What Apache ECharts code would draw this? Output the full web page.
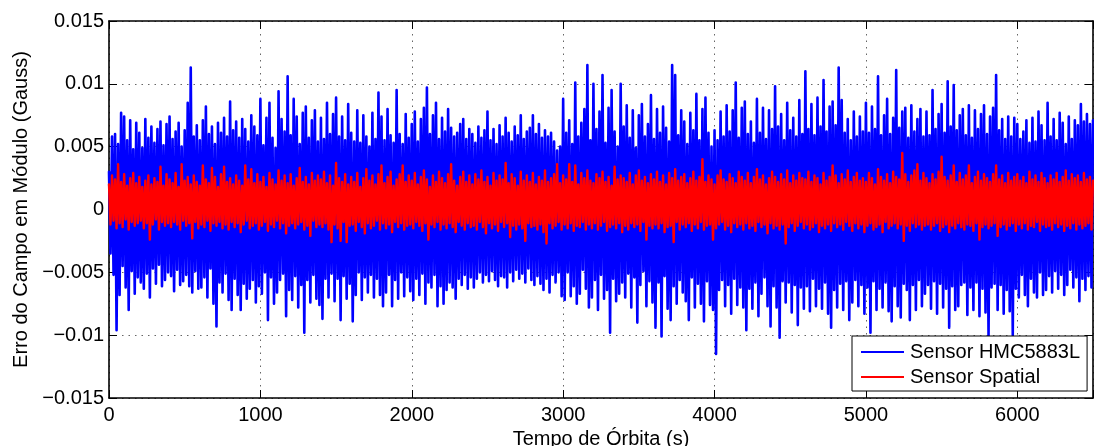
<!DOCTYPE html>
<html>
<head>
<meta charset="utf-8">
<script src="https://cdn.jsdelivr.net/npm/echarts@6/dist/echarts.min.js"></script>
<style>
html,body{margin:0;padding:0;background:#fff;}
#chart{width:1094px;height:446px;}
</style>
</head>
<body>
<div id="chart"></div>
<script>
// Sampling interval (s) of the values (alternating local max / local min)
const sampleStep = 10;

// Sensor HMC5883L error (Gauss), transcribed every 10 s from 0 to 6500 s
const blueHMC5883L = [
.0030,-.0035,.0058,-.0052,.0060,-.0096,.0052,-.0068,.0077,-.0045,.0074,-.0062,.0055,-.0080,.0071,-.0049,.0048,-.0067,.0069,-.0054,
.0061,-.0058,.0049,-.0063,.0072,-.0051,.0057,-.0070,.0066,-.0047,.0053,-.0059,.0064,-.0044,.0070,-.0061,.0051,-.0056,.0068,-.0050,
.0074,-.0053,.0056,-.0065,.0062,-.0048,.0069,-.0060,.0050,-.0057,.0063,-.0052,.0085,-.0061,.0113,-.0066,.0058,-.0049,.0067,-.0063,
.0055,-.0062,.0071,-.0054,.0082,-.0070,.0060,-.0047,.0066,-.0075,.0052,-.0093,.0069,-.0058,.0061,-.0066,.0073,-.0051,.0058,-.0072,
.0086,-.0080,.0063,-.0055,.0070,-.0068,.0057,-.0080,.0072,-.0059,.0064,-.0071,.0054,-.0063,.0075,-.0056,.0066,-.0074,.0059,-.0061,
.0088,-.0067,.0051,-.0050,.0073,-.0088,.0085,-.0054,.0057,-.0075,.0049,-.0066,.0094,-.0056,.0072,-.0051,.0062,-.0085,.0106,-.0064,
.0059,-.0072,.0088,-.0053,.0074,-.0078,.0052,-.0060,.0077,-.0098,.0082,-.0056,.0057,-.0074,.0071,-.0052,.0079,-.0071,.0054,-.0076,
.0073,-.0087,.0056,-.0055,.0085,-.0070,.0060,-.0051,.0076,-.0073,.0089,-.0055,.0058,-.0088,.0074,-.0053,.0055,-.0071,.0084,-.0059,
.0061,-.0089,.0054,-.0068,.0079,-.0050,.0053,-.0072,.0075,-.0054,.0058,-.0066,.0050,-.0052,.0077,-.0070,.0056,-.0055,.0093,-.0068,
.0074,-.0077,.0055,-.0066,.0080,-.0052,.0059,-.0077,.0053,-.0056,.0095,-.0071,.0060,-.0050,.0052,-.0069,.0076,-.0054,.0057,-.0065,
.0068,-.0072,.0078,-.0055,.0054,-.0068,.0072,-.0051,.0081,-.0075,.0097,-.0058,.0060,-.0062,.0075,-.0052,.0085,-.0077,.0056,-.0061,
.0073,-.0075,.0062,-.0064,.0080,-.0058,.0065,-.0062,.0058,-.0071,.0061,-.0055,.0068,-.0060,.0072,-.0052,.0056,-.0063,.0064,-.0054,
.0060,-.0062,.0053,-.0055,.0066,-.0050,.0057,-.0058,.0063,-.0052,.0078,-.0057,.0055,-.0049,.0064,-.0056,.0052,-.0061,.0067,-.0053,
.0058,-.0054,.0073,-.0062,.0061,-.0050,.0054,-.0057,.0066,-.0048,.0059,-.0055,.0075,-.0051,.0056,-.0058,.0062,-.0047,.0065,-.0056,
.0075,-.0060,.0060,-.0053,.0068,-.0059,.0057,-.0064,.0063,-.0055,.0058,-.0066,.0061,-.0052,.0054,-.0058,.0047,-.0050,.0050,-.0069,
.0088,-.0072,.0061,-.0050,.0071,-.0069,.0052,-.0061,.0101,-.0075,.0058,-.0067,.0069,-.0048,.0080,-.0063,.0115,-.0078,.0055,-.0070,
.0100,-.0056,.0064,-.0080,.0078,-.0052,.0107,-.0071,.0053,-.0064,.0081,-.0098,.0095,-.0055,.0062,-.0073,.0050,-.0067,.0100,-.0058,
.0066,-.0070,.0083,-.0051,.0057,-.0078,.0079,-.0054,.0049,-.0090,.0075,-.0060,.0084,-.0049,.0058,-.0077,.0068,-.0057,.0091,-.0074,
.0056,-.0094,.0080,-.0058,.0061,-.0101,.0082,-.0053,.0065,-.0079,.0054,-.0088,.0115,-.0061,.0107,-.0075,.0059,-.0056,.0079,-.0066,
.0070,-.0073,.0052,-.0088,.0077,-.0054,.0063,-.0078,.0092,-.0059,.0055,-.0075,.0080,-.0089,.0089,-.0057,.0061,-.0076,.0050,-.0080,
.0063,-.0115,.0055,-.0064,.0078,-.0056,.0058,-.0077,.0083,-.0060,.0062,-.0083,.0079,-.0055,.0101,-.0076,.0057,-.0062,.0081,-.0078,
.0086,-.0096,.0060,-.0063,.0070,-.0079,.0053,-.0058,.0088,-.0085,.0061,-.0067,.0081,-.0054,.0056,-.0077,.0079,-.0093,.0064,-.0061,
.0098,-.0078,.0066,-.0102,.0076,-.0057,.0055,-.0074,.0085,-.0058,.0063,-.0082,.0073,-.0060,.0058,-.0092,.0087,-.0062,.0060,-.0079,
.0110,-.0061,.0064,-.0081,.0084,-.0055,.0059,-.0077,.0089,-.0063,.0066,-.0079,.0103,-.0058,.0062,-.0083,.0082,-.0094,.0086,-.0064,
.0067,-.0078,.0113,-.0059,.0087,-.0080,.0061,-.0057,.0072,-.0088,.0055,-.0074,.0078,-.0056,.0058,-.0077,.0074,-.0060,.0062,-.0083,
.0085,-.0062,.0061,-.0098,.0082,-.0057,.0064,-.0080,.0106,-.0063,.0059,-.0078,.0075,-.0058,.0088,-.0081,.0060,-.0089,.0073,-.0061,
.0111,-.0077,.0065,-.0086,.0078,-.0059,.0081,-.0064,.0057,-.0088,.0083,-.0060,.0062,-.0080,.0072,-.0056,.0080,-.0077,.0058,-.0067,
.0078,-.0060,.0059,-.0079,.0095,-.0057,.0064,-.0083,.0076,-.0059,.0084,-.0078,.0061,-.0063,.0102,-.0094,.0066,-.0061,.0099,-.0080,
.0063,-.0077,.0075,-.0060,.0080,-.0058,.0059,-.0084,.0083,-.0062,.0057,-.0080,.0079,-.0058,.0064,-.0085,.0076,-.0063,.0083,-.0082,
.0060,-.0101,.0074,-.0062,.0081,-.0059,.0107,-.0080,.0063,-.0060,.0072,-.0083,.0056,-.0064,.0074,-.0081,.0058,-.0100,.0073,-.0063,
.0068,-.0070,.0056,-.0052,.0062,-.0068,.0071,-.0077,.0053,-.0055,.0073,-.0066,.0054,-.0070,.0078,-.0050,.0067,-.0068,.0055,-.0064,
.0085,-.0053,.0058,-.0066,.0072,-.0049,.0055,-.0063,.0077,-.0052,.0069,-.0068,.0052,-.0060,.0074,-.0048,.0056,-.0062,.0071,-.0054,
.0067,-.0073,.0084,-.0055,.0070,-.0064,.0076,-.0053,.0068,-.0062,.0071
];

// Sensor Spatial error (Gauss), transcribed every 10 s from 0 to 6500 s
const redSpatial = [
.0020,-.0012,.0027,-.0009,.0024,-.0015,.0036,-.0011,.0022,-.0014,.0028,-.0008,.0019,-.0016,.0025,-.0010,.0029,-.0013,.0021,-.0011,
.0026,-.0009,.0018,-.0015,.0023,-.0011,.0027,-.0024,.0020,-.0012,.0025,-.0008,.0022,-.0016,.0034,-.0010,.0019,-.0013,.0028,-.0011,
.0024,-.0014,.0021,-.0010,.0029,-.0012,.0018,-.0016,.0036,-.0009,.0023,-.0013,.0026,-.0011,.0020,-.0023,.0027,-.0010,.0022,-.0015,
.0019,-.0012,.0035,-.0014,.0024,-.0009,.0021,-.0017,.0033,-.0011,.0026,-.0013,.0018,-.0010,.0028,-.0015,.0034,-.0012,.0022,-.0016,
.0025,-.0010,.0020,-.0014,.0027,-.0011,.0023,-.0018,.0019,-.0012,.0035,-.0009,.0024,-.0015,.0032,-.0013,.0021,-.0011,.0028,-.0016,
.0022,-.0013,.0026,-.0010,.0018,-.0017,.0029,-.0012,.0024,-.0014,.0020,-.0009,.0031,-.0015,.0023,-.0011,.0027,-.0019,.0021,-.0013,
.0028,-.0011,.0019,-.0015,.0025,-.0012,.0033,-.0010,.0022,-.0016,.0026,-.0013,.0020,-.0021,.0029,-.0009,.0023,-.0014,.0027,-.0012,
.0024,-.0014,.0030,-.0011,.0021,-.0016,.0027,-.0026,.0019,-.0012,.0037,-.0015,.0025,-.0025,.0022,-.0010,.0028,-.0026,.0020,-.0013,
.0026,-.0012,.0022,-.0017,.0029,-.0010,.0018,-.0014,.0025,-.0019,.0032,-.0011,.0023,-.0015,.0027,-.0013,.0020,-.0009,.0028,-.0016,
.0035,-.0011,.0021,-.0015,.0026,-.0012,.0030,-.0018,.0019,-.0010,.0024,-.0014,.0028,-.0011,.0035,-.0016,.0022,-.0013,.0027,-.0012,
.0023,-.0015,.0029,-.0010,.0020,-.0013,.0026,-.0017,.0031,-.0011,.0024,-.0024,.0018,-.0012,.0027,-.0014,.0022,-.0010,.0030,-.0016,
.0025,-.0012,.0021,-.0015,.0028,-.0011,.0036,-.0014,.0023,-.0018,.0019,-.0010,.0026,-.0013,.0030,-.0016,.0022,-.0011,.0027,-.0014,
.0020,-.0013,.0028,-.0016,.0024,-.0010,.0031,-.0014,.0022,-.0019,.0026,-.0011,.0019,-.0015,.0029,-.0012,.0023,-.0017,.0027,-.0010,
.0024,-.0014,.0037,-.0011,.0021,-.0022,.0028,-.0013,.0025,-.0016,.0019,-.0012,.0030,-.0015,.0023,-.0025,.0027,-.0011,.0022,-.0014,
.0029,-.0013,.0020,-.0016,.0026,-.0012,.0023,-.0018,.0031,-.0027,.0022,-.0011,.0025,-.0015,.0028,-.0013,.0036,-.0010,.0021,-.0016,
.0027,-.0012,.0024,-.0015,.0036,-.0011,.0022,-.0017,.0035,-.0013,.0020,-.0014,.0029,-.0010,.0025,-.0016,.0031,-.0012,.0023,-.0015,
.0021,-.0011,.0028,-.0016,.0025,-.0013,.0030,-.0010,.0022,-.0017,.0026,-.0014,.0019,-.0012,.0034,-.0015,.0024,-.0011,.0027,-.0018,
.0025,-.0013,.0022,-.0016,.0029,-.0011,.0020,-.0014,.0027,-.0012,.0031,-.0017,.0023,-.0010,.0026,-.0024,.0021,-.0013,.0028,-.0015,
.0024,-.0012,.0030,-.0015,.0022,-.0011,.0027,-.0018,.0020,-.0014,.0029,-.0013,.0025,-.0026,.0032,-.0010,.0023,-.0016,.0026,-.0012,
.0028,-.0014,.0021,-.0011,.0025,-.0017,.0030,-.0012,.0023,-.0015,.0026,-.0010,.0040,-.0016,.0022,-.0013,.0027,-.0012,.0024,-.0024,
.0020,-.0015,.0027,-.0012,.0031,-.0010,.0024,-.0016,.0022,-.0013,.0028,-.0018,.0025,-.0011,.0021,-.0014,.0030,-.0012,.0026,-.0016,
.0023,-.0011,.0029,-.0015,.0021,-.0013,.0026,-.0017,.0032,-.0010,.0024,-.0014,.0027,-.0012,.0020,-.0019,.0025,-.0011,.0030,-.0015,
.0026,-.0013,.0022,-.0016,.0028,-.0012,.0024,-.0027,.0031,-.0014,.0021,-.0011,.0027,-.0017,.0023,-.0013,.0029,-.0010,.0025,-.0015,
.0024,-.0012,.0030,-.0016,.0022,-.0014,.0027,-.0011,.0025,-.0018,.0020,-.0013,.0029,-.0015,.0023,-.0012,.0026,-.0017,.0035,-.0011,
.0027,-.0014,.0021,-.0012,.0028,-.0016,.0024,-.0010,.0031,-.0013,.0022,-.0017,.0026,-.0011,.0029,-.0015,.0023,-.0012,.0025,-.0018,
.0022,-.0013,.0029,-.0011,.0025,-.0016,.0020,-.0014,.0032,-.0012,.0026,-.0018,.0023,-.0010,.0028,-.0015,.0021,-.0013,.0030,-.0011,
.0026,-.0015,.0024,-.0012,.0045,-.0025,.0028,-.0013,.0022,-.0017,.0027,-.0011,.0031,-.0014,.0036,-.0012,.0023,-.0016,.0029,-.0013,
.0025,-.0012,.0021,-.0016,.0028,-.0013,.0024,-.0011,.0030,-.0017,.0042,-.0014,.0026,-.0012,.0023,-.0018,.0027,-.0013,.0035,-.0015,
.0022,-.0011,.0029,-.0014,.0024,-.0016,.0027,-.0012,.0035,-.0013,.0021,-.0017,.0026,-.0011,.0030,-.0024,.0023,-.0014,.0028,-.0012,
.0025,-.0015,.0022,-.0013,.0028,-.0011,.0035,-.0021,.0024,-.0014,.0027,-.0012,.0021,-.0016,.0029,-.0013,.0023,-.0011,.0026,-.0017,
.0028,-.0012,.0023,-.0015,.0026,-.0011,.0021,-.0016,.0030,-.0013,.0024,-.0014,.0027,-.0010,.0022,-.0017,.0029,-.0012,.0025,-.0014,
.0021,-.0013,.0027,-.0016,.0024,-.0011,.0029,-.0014,.0022,-.0012,.0026,-.0017,.0031,-.0013,.0023,-.0015,.0028,-.0011,.0025,-.0016,
.0027,-.0012,.0022,-.0015,.0029,-.0013,.0024,-.0011,.0026,-.0016,.0023
];

const seriesNames = ['Sensor HMC5883L', 'Sensor Spatial'];
const seriesColors = ['#0000ff', '#ff0000'];
const xTickLabels = ['0', '1000', '2000', '3000', '4000', '5000', '6000'];
const yTickLabels = ['\u22120.015', '\u22120.01', '\u22120.005', '0', '0.005', '0.01', '0.015'];
const xTitle = 'Tempo de \u00d3rbita (s)';
const yTitle = 'Erro do Campo em M\u00f3dulo (Gauss)';

const FONT = '"Liberation Sans", Arial, Helvetica, sans-serif';
const toPairs = arr => arr.map((v, i) => [i * sampleStep, v]);

const chart = echarts.init(document.getElementById('chart'), null, {renderer: 'canvas'});

const gridLine = {show: true, lineStyle: {color: '#666', width: 1, type: [1.5, 5]}};
const tickStyle = {show: true, inside: true, length: 8, lineStyle: {color: '#000', width: 1}};
const lineStyleAxis = {show: true, onZero: false, lineStyle: {color: '#000', width: 1.6}};

chart.setOption({
  animation: false,
  backgroundColor: '#fff',
  textStyle: {fontFamily: FONT},
  grid: {left: 109, right: 1, top: 21, bottom: 48, containLabel: false, outerBoundsMode: 'none'},
  legend: {
    data: seriesNames.map(n => ({name: n, icon: 'rect'})),
    orient: 'vertical',
    left: 852, top: 336,
    itemWidth: 43, itemHeight: 2, itemGap: 5,
    padding: [6, 7, 4, 9],
    backgroundColor: '#fff',
    borderColor: '#000', borderWidth: 1,
    selectedMode: false,
    textStyle: {fontSize: 20, color: '#000', fontFamily: FONT, lineHeight: 20, padding: [0, 0, 0, 1]}
  },
  xAxis: [
    {
      type: 'value', min: 0, max: 6500, interval: 1000, position: 'bottom',
      name: xTitle, nameLocation: 'middle', nameGap: 26,
      nameTextStyle: {fontSize: 20, color: '#000', fontFamily: FONT},
      axisLine: lineStyleAxis, axisTick: tickStyle,
      axisLabel: {fontSize: 20, color: '#000', margin: 7, fontFamily: FONT,
        formatter: (v, i) => (xTickLabels[i] !== undefined ? xTickLabels[i] : '')},
      splitLine: gridLine
    },
    {
      type: 'value', min: 0, max: 6500, interval: 1000, position: 'top',
      axisLine: lineStyleAxis, axisTick: tickStyle,
      axisLabel: {show: false}, splitLine: {show: false}
    }
  ],
  yAxis: [
    {
      type: 'value', min: -0.015, max: 0.015, interval: 0.005, position: 'left',
      name: yTitle, nameLocation: 'middle', nameRotate: 90, nameGap: 63,
      nameTextStyle: {fontSize: 20, color: '#000', fontFamily: FONT},
      axisLine: lineStyleAxis, axisTick: tickStyle,
      axisLabel: {fontSize: 20, color: '#000', margin: 5, fontFamily: FONT,
        formatter: (v, i) => (yTickLabels[i] !== undefined ? yTickLabels[i] : '')},
      splitLine: gridLine
    },
    {
      type: 'value', min: -0.015, max: 0.015, interval: 0.005, position: 'right',
      axisLine: lineStyleAxis, axisTick: tickStyle,
      axisLabel: {show: false}, splitLine: {show: false}
    }
  ],
  series: [
    {
      name: seriesNames[0], type: 'line', data: toPairs(blueHMC5883L),
      showSymbol: false, symbol: 'none', sampling: null,
      color: seriesColors[0], lineStyle: {color: seriesColors[0], width: 2.6, join: 'round', cap: 'round'},
      z: 2
    },
    {
      name: seriesNames[1], type: 'line', data: toPairs(redSpatial),
      showSymbol: false, symbol: 'none', sampling: null,
      color: seriesColors[1], lineStyle: {color: seriesColors[1], width: 2.4, join: 'round', cap: 'round'},
      z: 3
    }
  ]
});
</script>
</body>
</html>
